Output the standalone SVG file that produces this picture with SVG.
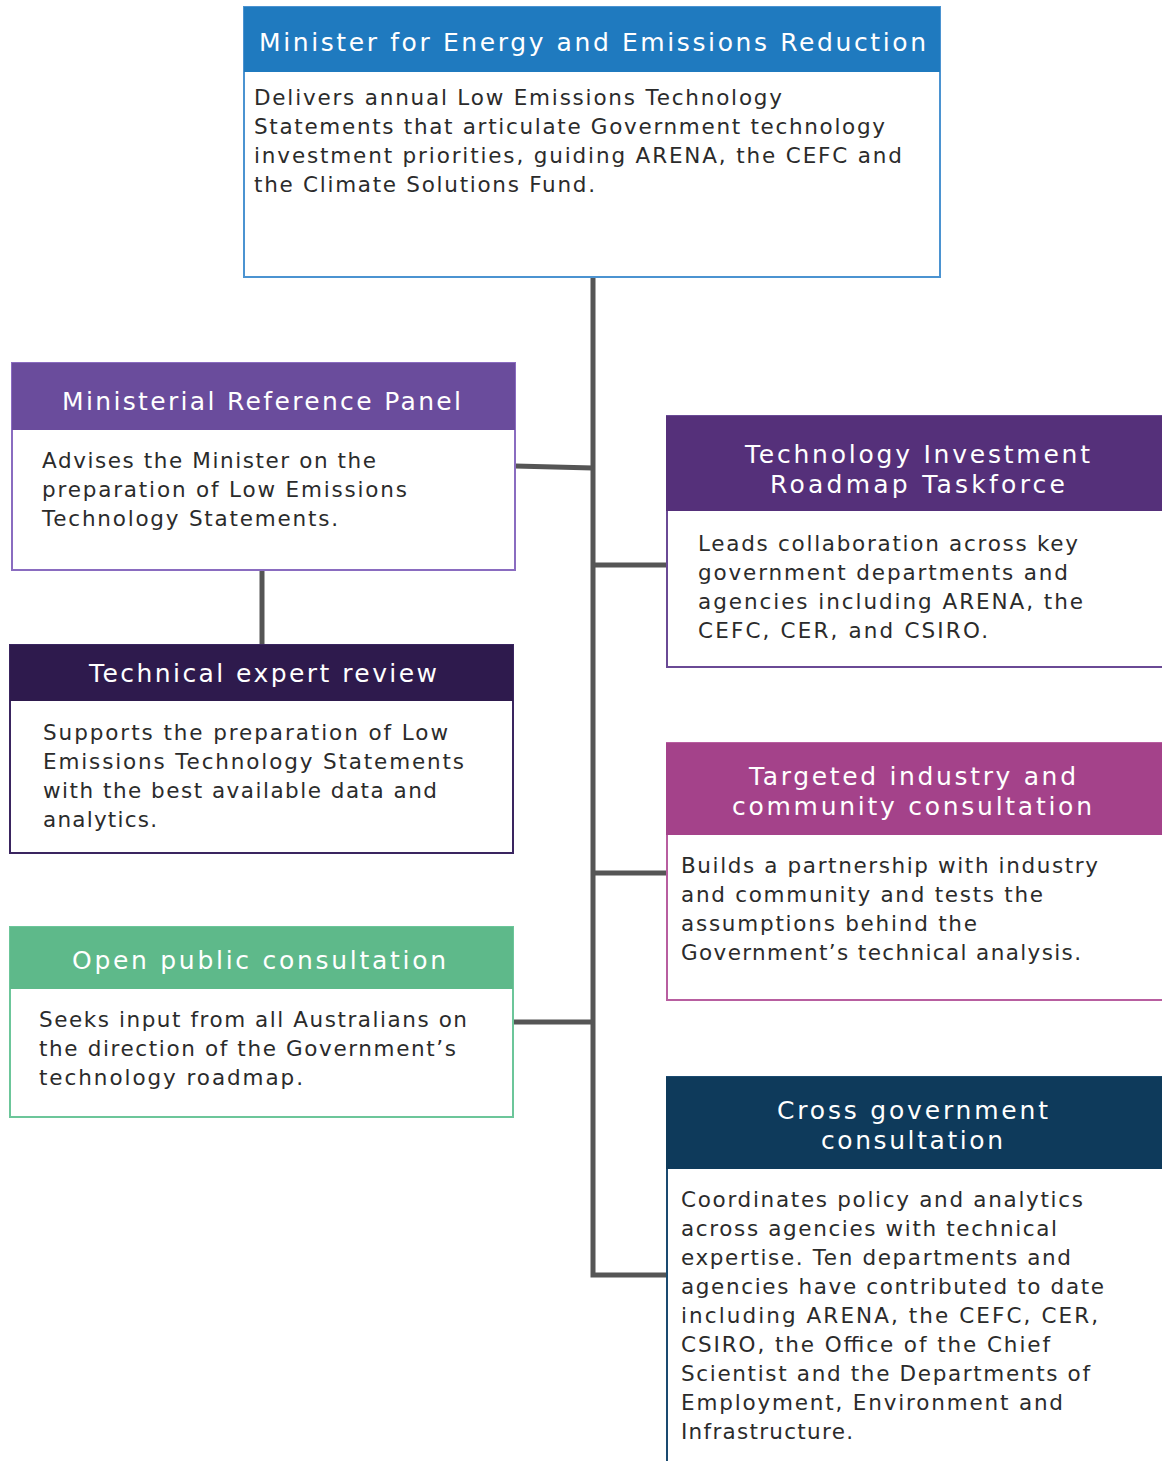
<svg xmlns="http://www.w3.org/2000/svg" width="1162" height="1461" viewBox="0 0 1162 1461">
<style>
.t{font-family:"DejaVu Sans","Liberation Sans",sans-serif;font-size:25px;fill:#ffffff}
.b{font-family:"DejaVu Sans","Liberation Sans",sans-serif;font-size:21.5px;fill:#2b2b2b}
.box{fill:#ffffff;stroke-width:2}
.conn{stroke:#555555;stroke-width:5;fill:none}
</style>
<rect width="1162" height="1461" fill="#ffffff"/>
<g id="connectors">
<path class="conn" d="M593 277 V1275 H666"/>
<path class="conn" d="M515 466 L593 468"/>
<path class="conn" d="M593 565 H666"/>
<path class="conn" d="M262 570 V645"/>
<path class="conn" d="M593 873 H666"/>
<path class="conn" d="M513 1022 H593"/>
</g>
<g id="minister">
<rect class="box" x="244" y="7" width="696" height="270" stroke="#4b93d1"/>
<rect x="244" y="7" width="696" height="65" fill="#1f7abf"/>
<text class="t" x="259" y="51" textLength="667" lengthAdjust="spacing">Minister for Energy and Emissions Reduction</text>
<text class="b" x="254" y="105" textLength="528" lengthAdjust="spacing">Delivers annual Low Emissions Technology</text>
<text class="b" x="254" y="134" textLength="631" lengthAdjust="spacing">Statements that articulate Government technology</text>
<text class="b" x="254" y="163" textLength="648" lengthAdjust="spacing">investment priorities, guiding ARENA, the CEFC and</text>
<text class="b" x="254" y="192" textLength="341" lengthAdjust="spacing">the Climate Solutions Fund.</text>
</g>
<g id="ministerial-reference-panel">
<rect class="box" x="12" y="363" width="503" height="207" stroke="#8a6cc0"/>
<rect x="12" y="363" width="503" height="67" fill="#6a4c9c"/>
<text class="t" x="62" y="410" textLength="399" lengthAdjust="spacing">Ministerial Reference Panel</text>
<text class="b" x="42" y="468" textLength="334" lengthAdjust="spacing">Advises the Minister on the</text>
<text class="b" x="42" y="497" textLength="365" lengthAdjust="spacing">preparation of Low Emissions</text>
<text class="b" x="42" y="526" textLength="296" lengthAdjust="spacing">Technology Statements.</text>
</g>
<g id="technical-expert-review">
<rect class="box" x="10" y="645" width="503" height="208" stroke="#3a2560"/>
<rect x="10" y="645" width="503" height="56" fill="#2e1a4d"/>
<text class="t" x="89" y="682" textLength="348" lengthAdjust="spacing">Technical expert review</text>
<text class="b" x="43" y="740" textLength="405" lengthAdjust="spacing">Supports the preparation of Low</text>
<text class="b" x="43" y="769" textLength="421" lengthAdjust="spacing">Emissions Technology Statements</text>
<text class="b" x="43" y="798" textLength="394" lengthAdjust="spacing">with the best available data and</text>
<text class="b" x="43" y="827" textLength="114" lengthAdjust="spacing">analytics.</text>
</g>
<g id="open-public-consultation">
<rect class="box" x="10" y="927" width="503" height="190" stroke="#6cc69a"/>
<rect x="10" y="927" width="503" height="62" fill="#5eb98a"/>
<text class="t" x="72" y="969" textLength="374" lengthAdjust="spacing">Open public consultation</text>
<text class="b" x="39" y="1027" textLength="428" lengthAdjust="spacing">Seeks input from all Australians on</text>
<text class="b" x="39" y="1056" textLength="417" lengthAdjust="spacing">the direction of the Government’s</text>
<text class="b" x="39" y="1085" textLength="264" lengthAdjust="spacing">technology roadmap.</text>
</g>
<g id="technology-investment-roadmap-taskforce">
<rect class="box" x="667" y="416" width="510" height="251" stroke="#6a4a95"/>
<rect x="666" y="416" width="510" height="95" fill="#55307a"/>
<text class="t" x="745" y="463" textLength="345" lengthAdjust="spacing">Technology Investment</text>
<text class="t" x="770" y="493" textLength="295" lengthAdjust="spacing">Roadmap Taskforce</text>
<text class="b" x="698" y="551" textLength="380" lengthAdjust="spacing">Leads collaboration across key</text>
<text class="b" x="698" y="580" textLength="370" lengthAdjust="spacing">government departments and</text>
<text class="b" x="698" y="609" textLength="385" lengthAdjust="spacing">agencies including ARENA, the</text>
<text class="b" x="698" y="638" textLength="290" lengthAdjust="spacing">CEFC, CER, and CSIRO.</text>
</g>
<g id="targeted-industry-community-consultation">
<rect class="box" x="667" y="743" width="510" height="257" stroke="#b85ea0"/>
<rect x="666" y="743" width="510" height="92" fill="#a4428a"/>
<text class="t" x="749" y="785" textLength="327" lengthAdjust="spacing">Targeted industry and</text>
<text class="t" x="732" y="815" textLength="360" lengthAdjust="spacing">community consultation</text>
<text class="b" x="681" y="873" textLength="417" lengthAdjust="spacing">Builds a partnership with industry</text>
<text class="b" x="681" y="902" textLength="362" lengthAdjust="spacing">and community and tests the</text>
<text class="b" x="681" y="931" textLength="296" lengthAdjust="spacing">assumptions behind the</text>
<text class="b" x="681" y="960" textLength="400" lengthAdjust="spacing">Government’s technical analysis.</text>
</g>
<g id="cross-government-consultation">
<rect class="box" x="667" y="1077" width="510" height="400" stroke="#1a4a70"/>
<rect x="666" y="1077" width="510" height="92" fill="#0e3a5b"/>
<text class="t" x="777" y="1119" textLength="271" lengthAdjust="spacing">Cross government</text>
<text class="t" x="821" y="1149" textLength="182" lengthAdjust="spacing">consultation</text>
<text class="b" x="681" y="1207" textLength="402" lengthAdjust="spacing">Coordinates policy and analytics</text>
<text class="b" x="681" y="1236" textLength="376" lengthAdjust="spacing">across agencies with technical</text>
<text class="b" x="681" y="1265" textLength="390" lengthAdjust="spacing">expertise. Ten departments and</text>
<text class="b" x="681" y="1294" textLength="423" lengthAdjust="spacing">agencies have contributed to date</text>
<text class="b" x="681" y="1323" textLength="417" lengthAdjust="spacing">including ARENA, the CEFC, CER,</text>
<text class="b" x="681" y="1352" textLength="369" lengthAdjust="spacing">CSIRO, the Office of the Chief</text>
<text class="b" x="681" y="1381" textLength="409" lengthAdjust="spacing">Scientist and the Departments of</text>
<text class="b" x="681" y="1410" textLength="382" lengthAdjust="spacing">Employment, Environment and</text>
<text class="b" x="681" y="1439" textLength="172" lengthAdjust="spacing">Infrastructure.</text>
</g>
</svg>
